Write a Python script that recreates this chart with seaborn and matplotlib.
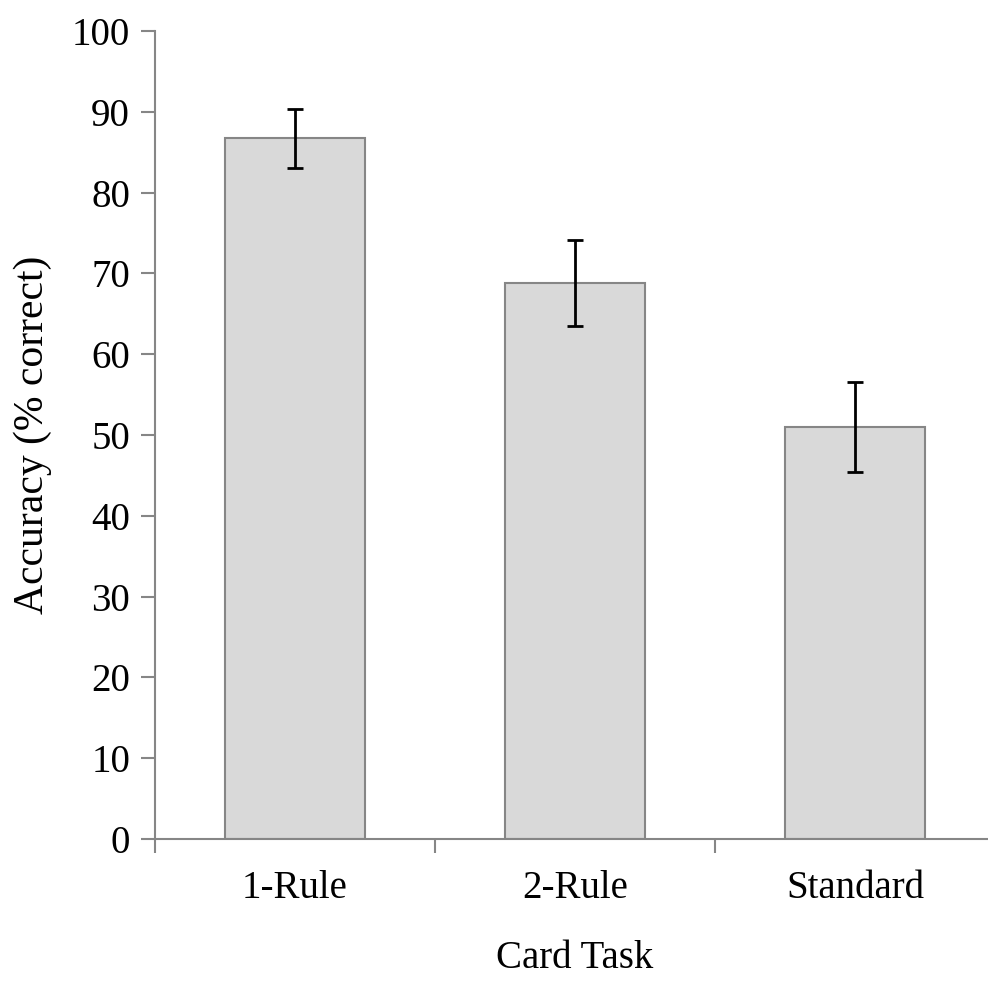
import numpy as np
import pandas as pd
import matplotlib.pyplot as plt
import seaborn as sns

# date
sarcini = ['1-Rule', '2-Rule', 'Standard']
acuratete = [86.7, 68.8, 51.0]
eroare = [3.65, 5.3, 5.55]

df = pd.DataFrame({'Card Task': sarcini, 'Accuracy': acuratete})

sns.set_style('white')
plt.rcParams['font.family'] = ['Liberation Serif', 'DejaVu Serif']
plt.rcParams['text.color'] = 'black'
plt.rcParams['axes.labelcolor'] = 'black'
plt.rcParams['xtick.color'] = 'black'
plt.rcParams['ytick.color'] = 'black'

fig = plt.figure(figsize=(9.88, 9.81), dpi=100)
ax = fig.add_axes([155 / 988, (981 - 839) / 981, 840 / 988, (839 - 31) / 981])

sns.barplot(data=df, x='Card Task', y='Accuracy', color='#d9d9d9', saturation=1,
            edgecolor='#868686', linewidth=1.5, width=0.5, errorbar=None, ax=ax)
ax.errorbar(range(len(sarcini)), acuratete, yerr=eroare, fmt='none', ecolor='black',
            elinewidth=2, capsize=6, capthick=2)

ax.set_ylim(0, 100)
ax.set_xlim(-0.5, 2.5)
ax.set_yticks(range(0, 101, 10))
ax.set_xticks([-0.5, 0.5, 1.5, 2.5], minor=True)
ax.tick_params(axis='x', which='both', bottom=True)
ax.tick_params(axis='x', which='major', length=0, pad=22, labelsize=28)
ax.tick_params(axis='x', which='minor', length=10, width=1.5, color='#868686', direction='out')
ax.tick_params(axis='y', left=True, length=10, width=1.5, color='#868686', labelcolor='black',
               direction='out', pad=8, labelsize=28)

for s in ['top', 'right']:
    ax.spines[s].set_visible(False)
for s in ['left', 'bottom']:
    ax.spines[s].set_color('#868686')
    ax.spines[s].set_linewidth(1.5)

ax.set_xlabel('Card Task', fontsize=28, labelpad=24)
ax.set_ylabel('Accuracy (% correct)', fontsize=30, labelpad=14)

fig.savefig('out.png', dpi=100)
